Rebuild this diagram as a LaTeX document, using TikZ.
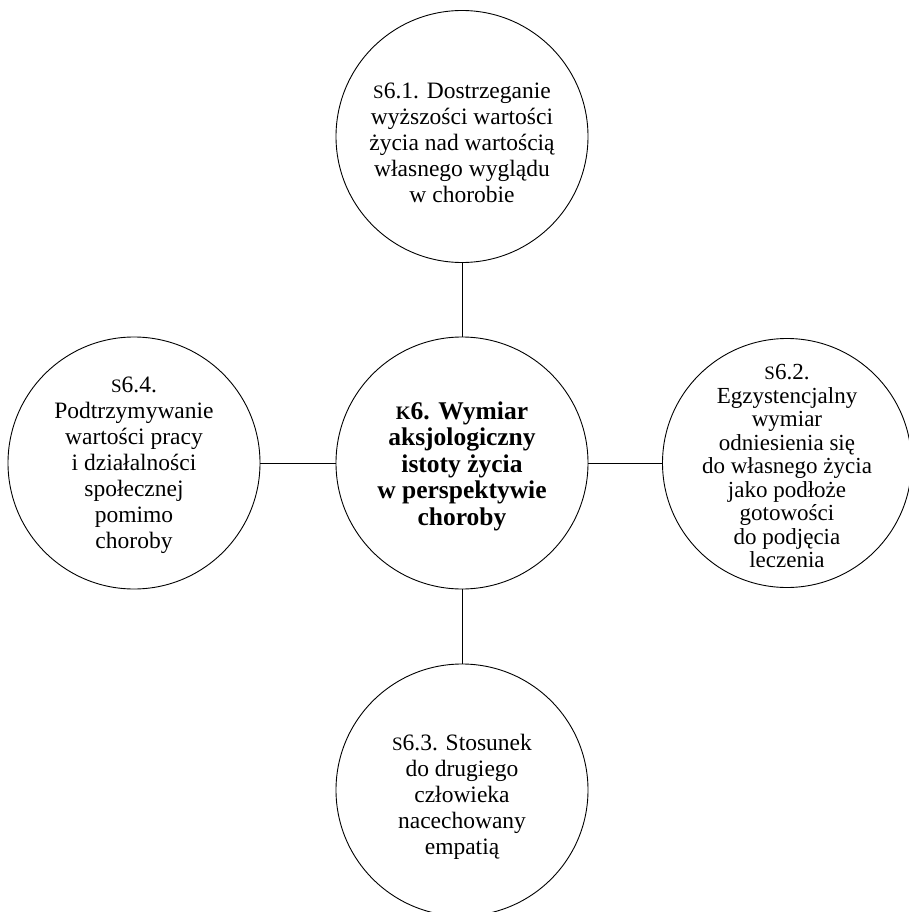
\documentclass[tikz,border=0pt]{standalone}
\usepackage{fontspec}
\setmainfont{Liberation Serif}
\newcommand\smcap[1]{{\fontsize{19}{19}\selectfont #1}}
\begin{document}
\begin{tikzpicture}[x=1pt,y=-1pt,
  bub/.style={circle,draw,line width=0.9pt,minimum size=252pt,inner sep=0pt},
  txt/.style={align=center,inner sep=0pt,font=\fontsize{23.5}{26}\selectfont},
  txtr/.style={align=center,inner sep=0pt,font=\fontsize{23}{23.5}\selectfont},
  txtb/.style={align=center,inner sep=0pt,font=\fontsize{25.5}{26.5}\selectfont\bfseries},
  link/.style={line width=0.9pt}]
\useasboundingbox (0,0) rectangle (908,912);
\node[bub] (c) at (462,463) {};
\node[bub] (t) at (462,136.5) {};
\node[bub] (l) at (134,463) {};
\node[bub,minimum size=249pt] (r) at (787,463) {};
\node[bub] (b) at (462,790) {};
\draw[link] (t) -- (c);
\draw[link] (l) -- (c);
\draw[link] (c) -- (r);
\draw[link] (c) -- (b);
\node[txtb,yshift=-3pt] (ct) at (c) {\smcap{K}6. Wymiar\\aksjologiczny\\istoty życia\\w perspektywie\\choroby};
\node[txt,yshift=-6pt] (tt) at (t) {\smcap{S}6.1. Dostrzeganie\\wyższości wartości\\życia nad wartością\\własnego wyglądu\\w chorobie};
\node[txt,yshift=-2pt] (lt) at (l) {\smcap{S}6.4.\\Podtrzymywanie\\wartości pracy\\i działalności\\społecznej\\pomimo\\choroby};
\node[txtr,yshift=-3pt] (rt) at (r) {\smcap{S}6.2.\\Egzystencjalny\\wymiar\\odniesienia się\\do własnego życia\\jako podłoże\\gotowości\\do podjęcia\\leczenia};
\node[txt,yshift=-7pt] (bt) at (b) {\smcap{S}6.3. Stosunek\\do drugiego\\człowieka\\nacechowany\\empatią};
\end{tikzpicture}
\end{document}
